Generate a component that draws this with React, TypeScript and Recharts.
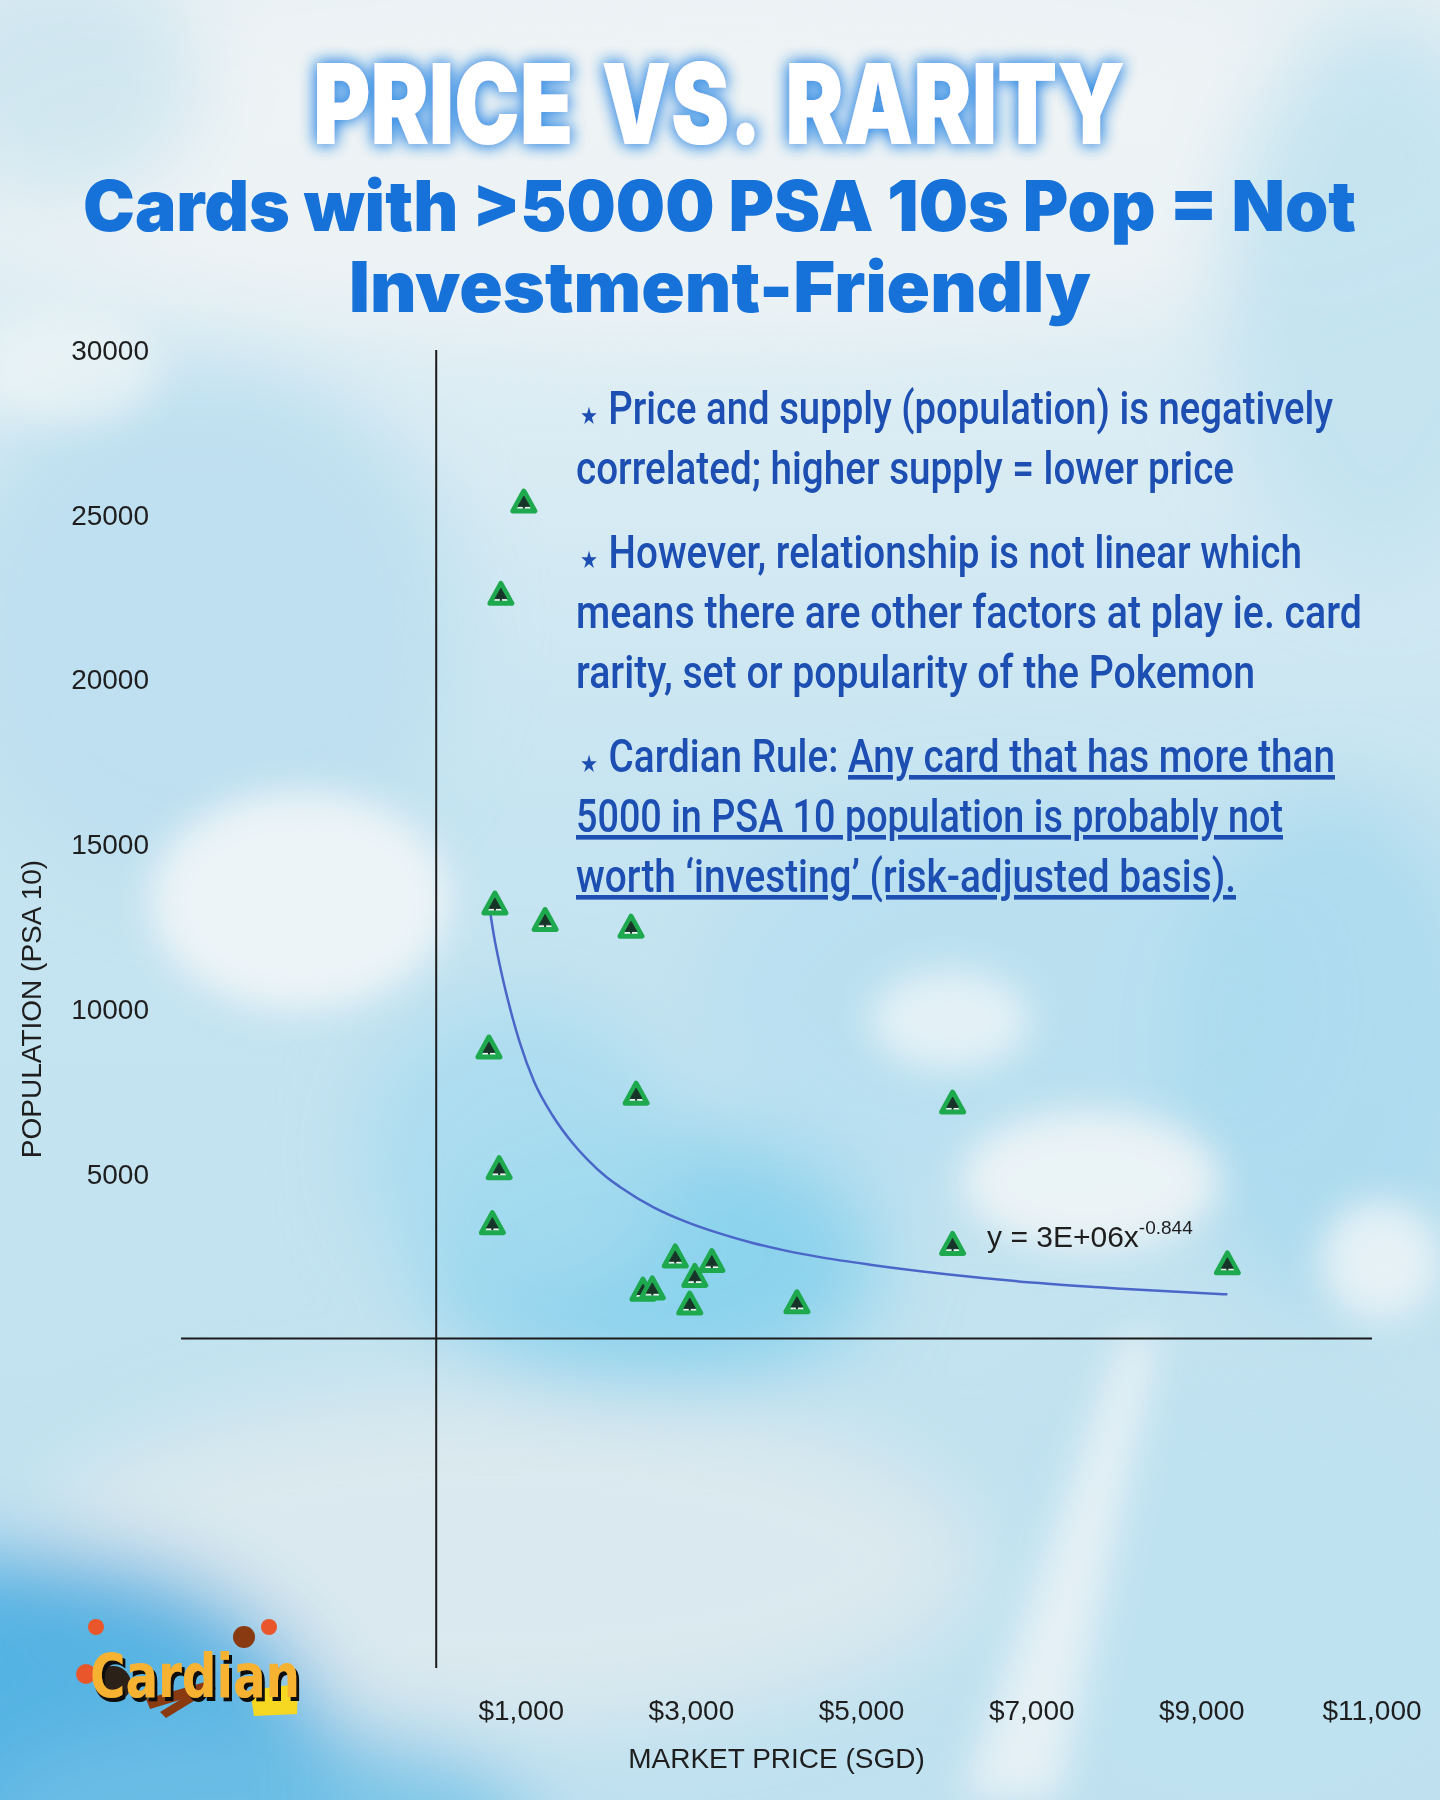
import React from 'react';
import { ScatterChart, Scatter, XAxis, YAxis, ReferenceLine, ReferenceDot } from 'recharts';

// ---- data ----
const priceSGD = [1030, 760, 690, 1280, 2290, 620, 2350, 6070, 740, 660, 2810, 3240, 3040, 2430, 2540, 2980, 4240, 6070, 9300];
const populationPSA10 = [25400, 22600, 13200, 12700, 12500, 8830, 7430, 7160, 5170, 3500, 2490, 2350, 1900, 1480, 1520, 1060, 1100, 2870, 2280];

// power trendline (y = 3E+06x^-0.844)
const trendPrice = [621, 680, 750, 850, 980, 1150, 1370, 1600, 1770, 2000, 2160, 2550, 2940, 3330, 3720, 4120, 4510, 5100, 6000, 7000, 8000, 9300];
const trendPopulation = [13170, 12200, 11300, 10200, 9000, 7800, 6760, 5940, 5450, 4900, 4600, 3990, 3540, 3190, 2900, 2660, 2470, 2240, 1950, 1700, 1520, 1340];

const xTicks = [1000, 3000, 5000, 7000, 9000, 11000];
const yTicks = [5000, 10000, 15000, 20000, 25000, 30000];
const xDomain = [-3000, 11000];
const yDomain = [-10000, 30000];

const equationText = 'y = 3E+06x';
const equationExponent = '-0.844';
const equationAt = { x: 6475, y: 2774 };

const cards = priceSGD.map((x, i) => ({ x, y: populationPSA10[i] }));
const trend = trendPrice.map((x, i) => ({ x, y: trendPopulation[i] }));

const AXIS_FONT = '"Liberation Sans", Arial, sans-serif';

const Marker = (props: any) => {
  const { cx, cy } = props;
  if (cx == null || cy == null) return <g />;
  return (
    <g transform={`translate(${cx},${cy + 1})`}>
      <path d="M0,-11.5 L11,8.5 L-11,8.5 Z" fill="#f4faf6" fillOpacity={0.92} stroke="#1fa94f" strokeWidth={5} strokeLinejoin="round" />
      <path d="M0,-6.5 L5.8,3.8 L-5.8,3.8 Z" fill="#163428" strokeLinejoin="round" stroke="#163428" strokeWidth={1} />
      <rect x={-1} y={3.5} width={2} height={2.5} fill="#163428" />
    </g>
  );
};

const EquationLabel = (props: any) => {
  const vb = props.viewBox || {};
  const x = (vb.x || 0) + (vb.width || 0) / 2;
  const y = (vb.y || 0) + (vb.height || 0) / 2;
  return (
    <text x={x} y={y} fontFamily={AXIS_FONT} fontSize={30} fill="#1e1e1e">
      <tspan>{equationText}</tspan>
      <tspan dy={-13} fontSize={19}>{equationExponent}</tspan>
    </text>
  );
};

const noteColor = '#1d4fb3';
type Part = { t: string; star?: boolean; u?: boolean; dx?: number };
const notes: { x: number; y: number; w: number; parts: Part[] }[] = [
  { x: 580, y: 424, w: 753, parts: [{ t: '★', star: true }, { t: 'Price and supply (population) is negatively', dx: 12 }] },
  { x: 576, y: 484, w: 658, parts: [{ t: 'correlated; higher supply = lower price' }] },
  { x: 580, y: 568, w: 722, parts: [{ t: '★', star: true }, { t: 'However, relationship is not linear which', dx: 12 }] },
  { x: 576, y: 628, w: 786, parts: [{ t: 'means there are other factors at play ie. card' }] },
  { x: 576, y: 688, w: 679, parts: [{ t: 'rarity, set or popularity of the Pokemon' }] },
  { x: 580, y: 772, w: 755, parts: [{ t: '★', star: true }, { t: 'Cardian Rule: ', dx: 12 }, { t: 'Any card that has more than', u: true }] },
  { x: 576, y: 832, w: 707, parts: [{ t: '5000 in PSA 10 population is probably not', u: true }] },
  { x: 576, y: 892, w: 660, parts: [{ t: 'worth ‘investing’ (risk-adjusted basis).', u: true }] },
];

const Background = () => (
  <svg width={1440} height={1800} style={{ position: 'absolute', left: 0, top: 0 }}>
    <defs>
      <filter id="soft" x="-50%" y="-50%" width="200%" height="200%">
        <feGaussianBlur stdDeviation="40" />
      </filter>
      <filter id="soft2" x="-50%" y="-50%" width="200%" height="200%">
        <feGaussianBlur stdDeviation="18" />
      </filter>
      <linearGradient id="base" x1="0" y1="0" x2="0" y2="1">
        <stop offset="0" stopColor="#e6f0f4" />
        <stop offset="0.22" stopColor="#dcedf4" />
        <stop offset="0.45" stopColor="#c6e4f1" />
        <stop offset="0.7" stopColor="#c3e3f0" />
        <stop offset="1" stopColor="#bfe1f0" />
      </linearGradient>
    </defs>
    <rect x={0} y={0} width={1440} height={1800} fill="url(#base)" />
    <g filter="url(#soft)">
      <ellipse cx={720} cy={150} rx={800} ry={190} fill="#eef3f5" opacity={0.9} />
      <ellipse cx={60} cy={80} rx={140} ry={120} fill="#c9e3ef" opacity={0.8} />
      <ellipse cx={1380} cy={300} rx={160} ry={280} fill="#c2e2f0" opacity={0.9} />
      <ellipse cx={200} cy={620} rx={260} ry={260} fill="#bcdfef" opacity={0.9} />
      <ellipse cx={650} cy={1260} rx={230} ry={130} fill="#86d0ec" opacity={0.9} />
      <ellipse cx={520} cy={1150} rx={160} ry={150} fill="#a6dbef" opacity={0.8} />
      <ellipse cx={1000} cy={1000} rx={300} ry={200} fill="#b7def0" opacity={0.8} />
      <ellipse cx={1330} cy={1050} rx={160} ry={260} fill="#a9d9ee" opacity={0.8} />
      <ellipse cx={500} cy={1560} rx={480} ry={170} fill="#dbe9ee" opacity={0.95} />
      <ellipse cx={1250} cy={1600} rx={260} ry={220} fill="#bfe2f1" opacity={0.9} />
      <ellipse cx={40} cy={1780} rx={300} ry={230} fill="#4fb0e1" opacity={0.95} />
      <ellipse cx={250} cy={1830} rx={280} ry={110} fill="#71c0e6" opacity={0.8} />
    </g>
    <g filter="url(#soft2)">
      <ellipse cx={300} cy={900} rx={150} ry={110} fill="#f3f7f8" opacity={0.85} />
      <ellipse cx={70} cy={370} rx={90} ry={55} fill="#f2f6f7" opacity={0.6} />
      <ellipse cx={1090} cy={1180} rx={130} ry={70} fill="#f2f6f7" opacity={0.85} />
      <ellipse cx={1380} cy={1260} rx={60} ry={60} fill="#f2f6f7" opacity={0.8} />
      <ellipse cx={950} cy={1020} rx={80} ry={50} fill="#eef5f7" opacity={0.8} />
      <path d="M1160,1330 L1120,1340 L960,1800 L1060,1800 Z" fill="#eef4f6" opacity={0.8} />
    </g>
  </svg>
);

const Overlay = () => (
  <svg width={1440} height={1800} style={{ position: 'absolute', left: 0, top: 0, pointerEvents: 'none' }}>
    <defs>
      <filter id="glow" x="-20%" y="-60%" width="140%" height="220%">
        <feGaussianBlur in="SourceAlpha" stdDeviation="8" result="b" />
        <feFlood floodColor="#3a8fe4" floodOpacity="0.9" />
        <feComposite in2="b" operator="in" result="g" />
        <feMerge>
          <feMergeNode in="g" />
          <feMergeNode in="g" />
          <feMergeNode in="SourceGraphic" />
        </feMerge>
      </filter>
      <filter id="logoShadow" x="-20%" y="-30%" width="140%" height="160%">
        <feOffset in="SourceAlpha" dx="3" dy="4" result="o" />
        <feFlood floodColor="#111111" />
        <feComposite in2="o" operator="in" result="s" />
        <feMerge>
          <feMergeNode in="s" />
          <feMergeNode in="SourceGraphic" />
        </feMerge>
      </filter>
    </defs>
    <text x={313} y={144} textLength={812} lengthAdjust="spacingAndGlyphs" fontFamily="Inter, Roboto, sans-serif" fontWeight={900} fontSize={112} fill="#ffffff" filter="url(#glow)" style={{ whiteSpace: 'pre', wordSpacing: '14px' }}>
      PRICE VS. RARITY
    </text>
    <text x={83} y={231} textLength={1273} lengthAdjust="spacingAndGlyphs" fontFamily="Inter, Roboto, sans-serif" fontWeight={900} fontSize={70} fill="#1672d8">
      Cards with &gt;5000 PSA 10s Pop = Not
    </text>
    <text x={349} y={312} textLength={742} lengthAdjust="spacingAndGlyphs" fontFamily="Inter, Roboto, sans-serif" fontWeight={900} fontSize={70} fill="#1672d8">
      Investment-Friendly
    </text>

    {notes.map((n, i) => (
      <text key={i} x={n.x} y={n.y} textLength={n.w} lengthAdjust="spacingAndGlyphs" fontFamily="Roboto, 'Noto Sans', sans-serif" fontWeight={500} fontSize={46} fill={noteColor}>
        {n.parts.map((p, j) => (
          <tspan key={j} dx={p.dx} fontSize={p.star ? 24 : undefined} style={p.u ? { textDecoration: 'underline', textDecorationThickness: '3px' } : undefined}>
            {p.t}
          </tspan>
        ))}
      </text>
    ))}

    {/* logo */}
    <g>
      <circle cx={96} cy={1627} r={8} fill="#e9562b" />
      <circle cx={269} cy={1627} r={8} fill="#e9562b" />
      <circle cx={86} cy={1674} r={10} fill="#e9562b" />
      <circle cx={113} cy={1684} r={18} fill="#2b2118" />
      <circle cx={244} cy={1637} r={11} fill="#8a3a10" />
      <path d="M146,1699 L212,1680 L216,1689 L150,1709 Z" fill="#8a3a10" />
      <path d="M160,1712 L196,1690 L202,1696 L166,1718 Z" fill="#8a3a10" />
      <path d="M250,1690 L298,1684 L297,1714 L254,1716 Z" fill="#f6d822" />
      <text x={90} y={1697} textLength={210} lengthAdjust="spacingAndGlyphs" fontFamily="'DejaVu Sans', sans-serif" fontWeight={700} fontSize={60} fill="#f8b232" filter="url(#logoShadow)">
        Cardian
      </text>
    </g>
  </svg>
);

export default function App() {
  return (
    <div style={{ position: 'absolute', left: 0, top: 0, width: 1440, height: 1800, overflow: 'hidden' }}>
      <Background />
      <div style={{ position: 'absolute', left: 0, top: 0 }}>
        <ScatterChart width={1440} height={1800} margin={{ top: 350, right: 68, bottom: 0, left: 0 }}>
          <XAxis
            type="number"
            dataKey="x"
            domain={xDomain}
            ticks={xTicks}
            interval={0}
            allowDataOverflow
            axisLine={false}
            tickLine={false}
            tickSize={0}
            tickMargin={32}
            height={132}
            tick={{ fontSize: 28, fill: '#1e1e1e', fontFamily: AXIS_FONT }}
            tickFormatter={(v: number) => '$' + v.toLocaleString('en-US')}
            label={{ value: 'MARKET PRICE (SGD)', position: 'insideBottom', offset: 32, fontSize: 28, fill: '#1e1e1e', fontFamily: AXIS_FONT }}
          />
          <YAxis
            type="number"
            dataKey="y"
            domain={yDomain}
            ticks={yTicks}
            interval={0}
            allowDataOverflow
            axisLine={false}
            tickLine={false}
            tickSize={0}
            tickMargin={32}
            width={181}
            tick={{ fontSize: 28, fill: '#1e1e1e', fontFamily: AXIS_FONT }}
            label={{ value: 'POPULATION (PSA 10)', angle: -90, position: 'insideLeft', offset: 31, fontSize: 28, fill: '#1e1e1e', fontFamily: AXIS_FONT, style: { textAnchor: 'middle' } }}
          />
          <ReferenceLine x={0} stroke="#1b1b1b" strokeWidth={2} />
          <ReferenceLine y={0} stroke="#1b1b1b" strokeWidth={2} />
          <Scatter
            data={trend}
            line={{ stroke: '#4a66c8', strokeWidth: 2.5 }}
            lineJointType="monotoneX"
            shape={() => <g />}
            isAnimationActive={false}
          />
          <Scatter data={cards} shape={(p: any) => <Marker {...p} />} isAnimationActive={false} />
          <ReferenceDot x={equationAt.x} y={equationAt.y} r={1} fill="none" stroke="none" label={<EquationLabel />} />
        </ScatterChart>
      </div>
      <Overlay />
    </div>
  );
}
